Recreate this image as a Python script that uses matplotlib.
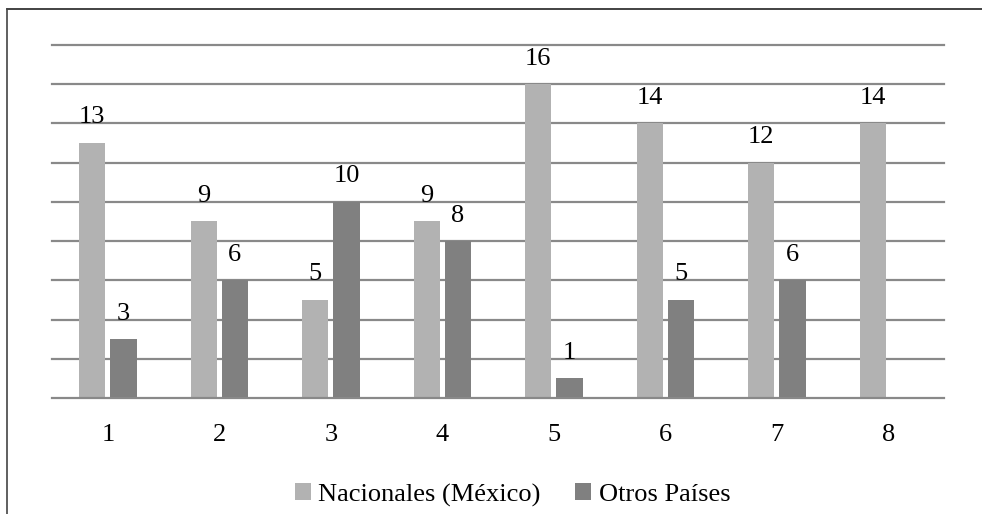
import matplotlib
matplotlib.use('Agg')
import matplotlib.pyplot as plt
from matplotlib.lines import Line2D
import numpy as np

# datos del grafico
categorias = ['1', '2', '3', '4', '5', '6', '7', '8']
nacionales = [13, 9, 5, 9, 16, 14, 12, 14]
otros = [3, 6, 10, 8, 1, 5, 6, None]
series = ['Nacionales (México)', 'Otros Países']

plt.rcParams['font.family'] = ['Liberation Serif', 'DejaVu Serif']

fig = plt.figure(figsize=(9.82, 5.14), dpi=100)
ax = fig.add_axes([0.053, 0.2257, 0.9084, 0.6868])

x = np.arange(len(categorias))
ancho = 0.235
sep = 0.14
grid_color = '#898989'

# lineas horizontales de la cuadricula
for v in range(2, 19, 2):
    ax.axhline(v, color=grid_color, lw=1.6, zorder=1, clip_on=False)

b1 = ax.bar(x - sep, nacionales, ancho, color='#b2b2b2', zorder=2, label=series[0])
x_otros = [xi + sep for xi, v in zip(x, otros) if v is not None]
v_otros = [v for v in otros if v is not None]
b2 = ax.bar(x_otros, v_otros, ancho, color='#808080', zorder=2, label=series[1])

# etiquetas de valores
for xi, v in zip(x - sep, nacionales):
    ax.annotate(str(v), (xi, v), xytext=(0, 10.5), textcoords='offset points',
                ha='center', va='bottom', fontsize=19)
for xi, v in zip(x_otros, v_otros):
    ax.annotate(str(v), (xi, v), xytext=(0, 10.5), textcoords='offset points',
                ha='center', va='bottom', fontsize=19)

ax.set_xlim(-0.5, len(categorias) - 0.5)
ax.set_ylim(0, 18)
ax.set_xticks(x)
ax.set_xticklabels(categorias, fontsize=19)
ax.tick_params(axis='x', length=0, pad=18.5)
ax.set_yticks([])
for s in ['top', 'right', 'left']:
    ax.spines[s].set_visible(False)
ax.spines['bottom'].set_color(grid_color)
ax.spines['bottom'].set_linewidth(1.6)

fig.legend(handles=[b1, b2], labels=series, loc='center',
           bbox_to_anchor=(0.522, 0.037), ncol=2, frameon=False,
           fontsize=19, handlelength=0.6, handleheight=0.6,
           handletextpad=0.3, columnspacing=1.3)

# marco del area del grafico (solo arriba e izquierda)
fig.add_artist(Line2D([7 / 982, 1.0], [1 - 9 / 514, 1 - 9 / 514],
                      transform=fig.transFigure, color='#222222', lw=1.2))
fig.add_artist(Line2D([7 / 982, 7 / 982], [0, 1 - 9 / 514],
                      transform=fig.transFigure, color='#444444', lw=1.2))

fig.savefig('out.png', dpi=100)
plt.close(fig)
